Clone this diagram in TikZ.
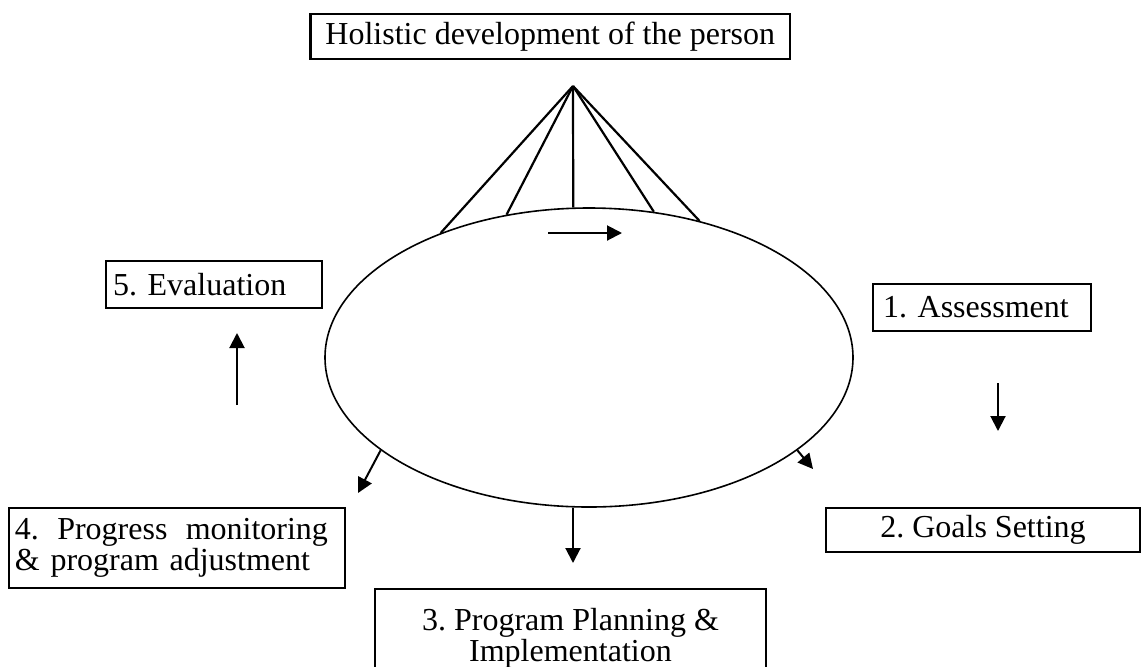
\documentclass[tikz,border=0pt]{standalone}
\usepackage{fontspec}
\setmainfont{Liberation Serif}
\frenchspacing
\usetikzlibrary{arrows.meta,shapes.geometric}
\tikzset{stage/.style={draw,line width=1.2pt,inner sep=0pt,font=\fontsize{16}{13.5}\selectfont,align=center},flow/.style={-{Triangle[length=7.5pt,width=7.5pt]},line width=1pt},spoke/.style={line width=1.1pt}}

\begin{document}
\begin{tikzpicture}[x=0.5pt,y=-0.5pt]
\useasboundingbox (0,0) rectangle (1142,666);
\node[draw,ellipse,line width=0.8pt,minimum width=264pt,minimum height=149.5pt,inner sep=0pt] (cycle) at (589,357.5) {};
\node[stage,minimum width=239.75pt,minimum height=22.5pt] (holistic) at (550.25,36.5) {Holistic development of the person};
\node[stage,minimum width=109pt,minimum height=23.5pt,text width=99pt,align=left] (assess) at (982,307.5) {1. Assessment};
\node[stage,minimum width=157pt,minimum height=22pt] (goals) at (983,530) {2. Goals Setting};
\node[stage,minimum width=195.5pt,minimum height=49pt,font=\fontsize{16}{15.5}\selectfont] (plan) at (570.5,638) {3. Program Planning \&\\Implementation};
\node[stage,minimum width=168pt,minimum height=40pt,text width=162pt,align=left] (monitor) at (177,548) {\hbox to 156.5pt{4.\hfill Progress\hfill monitoring}\\\& program adjustment};
\node[stage,minimum width=108pt,minimum height=23.5pt,text width=101pt,align=left] (eval) at (214,284.5) {5. Evaluation};
% spokes from the goal down to the cycle
\coordinate (apex) at (573,86);
\foreach \a in {140.8,120.7,96.1,66.4,51.2} \draw[spoke] (apex) -- (cycle.\a);
% direction of the cycle
\coordinate (turnA) at (548,233);\coordinate (turnB) at (622,233);
\draw[flow] (turnA) -- (turnB);
\coordinate (assessA) at (998,383);\coordinate (assessB) at (998,431);
\draw[flow] (assessA) -- (assessB);
\coordinate (goalsT) at (813,469);\draw[flow] (cycle.336.9) -- (goalsT);
\coordinate (planT) at (573,563);\draw[flow] (planT |- cycle.south) -- (planT);
\coordinate (monitorT) at (358,493);\draw[flow] (cycle.204) -- (monitorT);
\coordinate (evalA) at (237,405);\coordinate (evalB) at (237,333);
\draw[flow] (evalA) -- (evalB);
\end{tikzpicture}
\end{document}
